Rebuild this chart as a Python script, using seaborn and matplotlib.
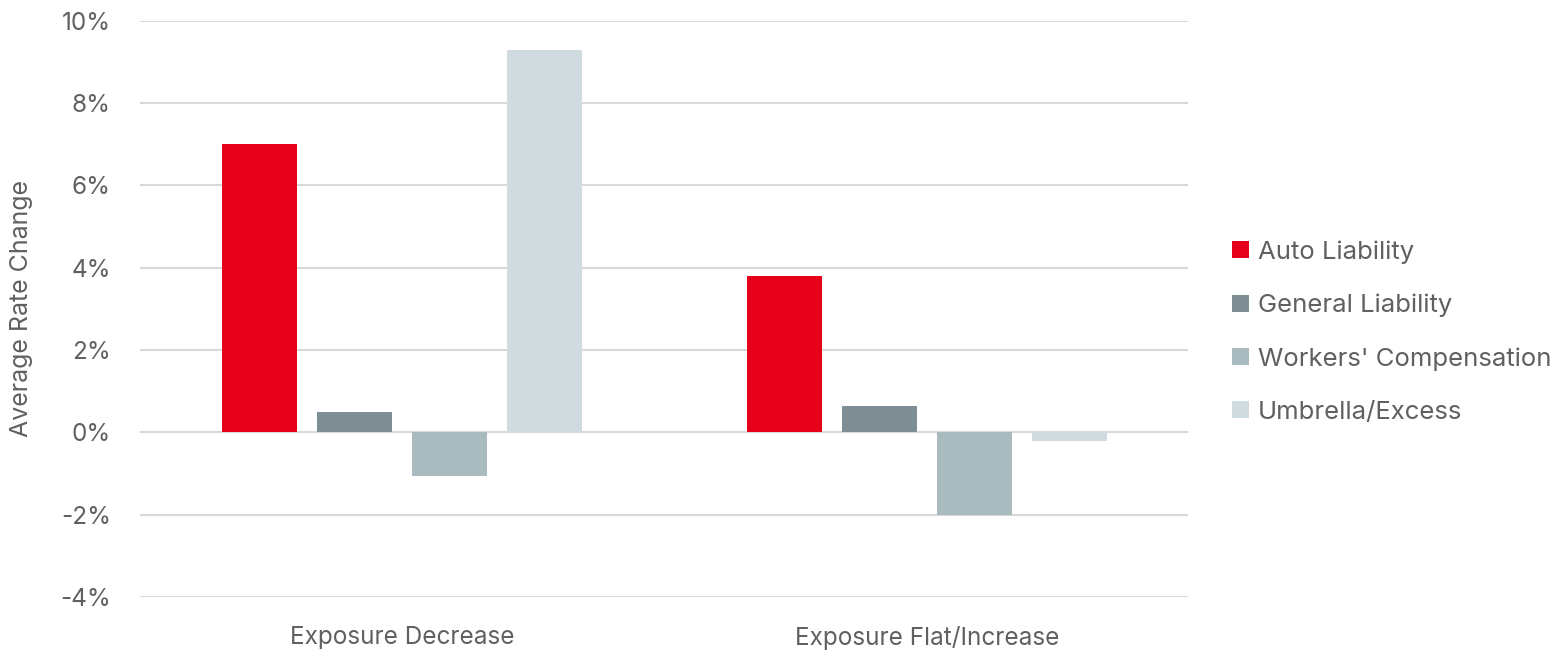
import pandas as pd
import matplotlib.pyplot as plt
import seaborn as sns

# Chart data
exposure = ["Exposure Decrease", "Exposure Flat/Increase"]
lines = ["Auto Liability", "General Liability", "Workers' Compensation", "Umbrella/Excess"]
auto_liability = [7.0, 3.8]
general_liability = [0.5, 0.65]
workers_comp = [-1.05, -2.0]
umbrella_excess = [9.3, -0.22]
y_ticks = [-4, -2, 0, 2, 4, 6, 8, 10]

colors = ["#E60019", "#7F8E94", "#AABBBF", "#CFDBDF"]

values = [auto_liability, general_liability, workers_comp, umbrella_excess]
rows = []
for line, vals in zip(lines, values):
    for exp, v in zip(exposure, vals):
        rows.append({"Exposure": exp, "Line": line, "Rate": v})
df = pd.DataFrame(rows)

sns.set_style("white")
plt.rcParams["font.family"] = ["Inter", "DejaVu Sans"]
text_color = "#606060"

fig = plt.figure(figsize=(15.57, 6.51), dpi=100)
ax = fig.add_axes([0.0899, 0.083, 0.6731, 0.885])

sns.barplot(
    data=df, x="Exposure", y="Rate", hue="Line",
    order=exposure, hue_order=lines, palette=colors,
    width=0.724, gap=0.21, saturation=1, linewidth=0, ax=ax
)

ax.set_ylim(-4, 10)
ax.set_xlim(-0.5, 1.497)
ax.set_yticks(y_ticks)
ax.set_yticklabels([f"{t}%" for t in y_ticks])
ax.yaxis.grid(True, color="#d9d9d9", linewidth=1.5)
ax.set_axisbelow(True)
for s in ax.spines.values():
    s.set_visible(False)
ax.tick_params(axis="both", length=0, labelsize=17.5, colors=text_color)
ax.tick_params(axis="y", pad=21)
ax.tick_params(axis="x", pad=21)
ax.set_xlabel("")
ax.set_ylabel("Average Rate Change", fontsize=18, color=text_color)
ax.yaxis.set_label_coords(-0.102, 0.5)

handles, labels = ax.get_legend_handles_labels()
ax.get_legend().remove()
fig.legend(
    handles, labels, loc="center left", bbox_to_anchor=(0.7765, 0.490),
    frameon=False, fontsize=18.5, labelcolor=text_color,
    handlelength=0.66, handleheight=0.66, handletextpad=0.35, labelspacing=1.17
)

plt.savefig("out.png", dpi=100)
